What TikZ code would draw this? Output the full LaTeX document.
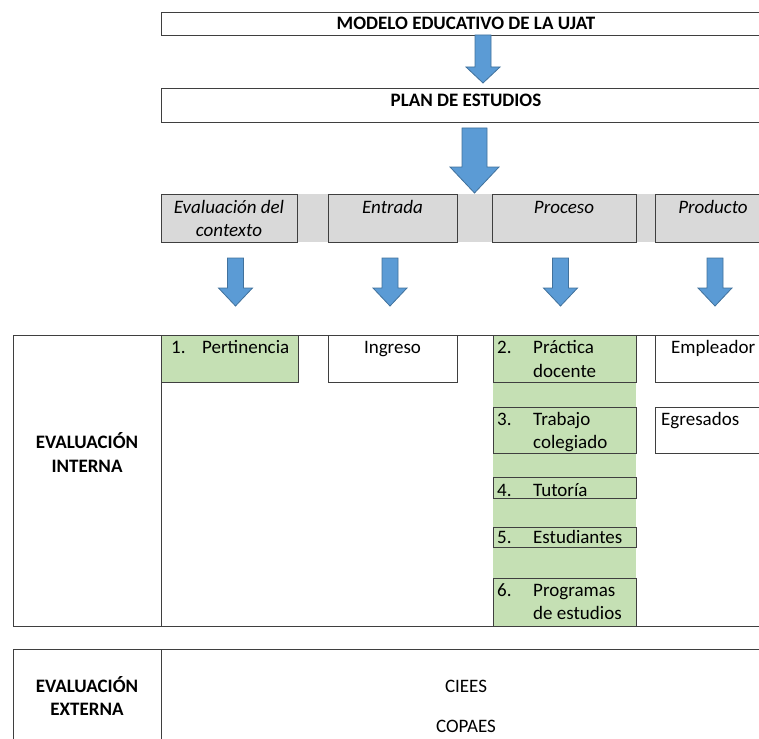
\documentclass[tikz,border=0pt]{standalone}
\usepackage{fontspec}
\setmainfont{Carlito}

\definecolor{arrowblue}{HTML}{5B9BD5}
\definecolor{arrowedge}{HTML}{41719C}
\definecolor{boxgrey}{HTML}{D9D9D9}
\definecolor{boxgreen}{HTML}{C5E0B4}
\definecolor{rulegrey}{HTML}{3F3F3F}

\tikzset{
    frame/.style={draw=rulegrey, line width=0.8pt},
    txt/.style={inner sep=0pt, anchor=base},
    ltxt/.style={inner sep=0pt, anchor=base west},
}

% block arrow: centre x, top, tip, half shaft, half head, start of head
\newcommand{\blockarr}[6]{%
    \filldraw[fill=arrowblue, draw=arrowedge, line width=0.8pt]
    (#1-#4,#2) -- (#1+#4,#2) -- (#1+#4,#6) -- (#1+#5,#6) -- (#1,#3) -- (#1-#5,#6) -- (#1-#4,#6) -- cycle;}

\begin{document}
\begin{tikzpicture}[x=1pt,y=-1pt, font=\fontsize{19}{23}\selectfont]
    \path[use as bounding box, clip] (0,0) rectangle (759,738);

    % top boxes
    \draw[frame] (161,12) rectangle (771,35);
    \node[txt] (modelo) at (466,30) {\bfseries MODELO EDUCATIVO DE LA UJAT};
    \blockarr{483}{35}{83}{8}{17}{67}

    \draw[frame] (161,88) rectangle (771,122);
    \node[txt] (plan) at (466,107) {\bfseries PLAN DE ESTUDIOS};
    \blockarr{474.5}{128}{193}{12.5}{24.5}{167}

    % grey row
    \fill[boxgrey] (161,194) rectangle (771,242);
    \draw[frame, fill=boxgrey] (161,194) rectangle (297,242);
    \draw[frame, fill=boxgrey] (328,194) rectangle (457,242);
    \draw[frame, fill=boxgrey] (492,194) rectangle (636,242);
    \draw[frame, fill=boxgrey] (655,194) rectangle (771,242);
    \node[txt] (contexta) at (229,213) {\itshape Evaluación del};
    \node[txt] (contextb) at (229,236) {\itshape contexto};
    \node[txt] (entrada) at (392.5,213) {\itshape Entrada};
    \node[txt] (proceso) at (564,213) {\itshape Proceso};
    \node[txt] (producto) at (713,213) {\itshape Producto};

    \foreach \cx in {235.5, 390, 560.5, 715}{
        \blockarr{\cx}{258}{306}{8}{17}{288}
    }

    % evaluacion interna
    \draw[frame] (13,335) rectangle (771,626);
    \draw[frame] (161,335) -- (161,626);
    \node[txt] (intera) at (87,448) {\bfseries EVALUACIÓN};
    \node[txt] (interb) at (87,472) {\bfseries INTERNA};

    \draw[frame, fill=boxgreen] (161,335) rectangle (298,382);
    \node[ltxt] (numa) at (171,353) {1.};
    \node[ltxt] (pertinencia) at (202,353) {Pertinencia};

    \draw[frame] (328,335) rectangle (457,382);
    \node[txt] (ingreso) at (392.5,353) {Ingreso};

    \fill[boxgreen] (493,335) rectangle (636,626);
    \draw[frame, fill=boxgreen] (493,335) rectangle (636,382);
    \draw[frame, fill=boxgreen] (493,407) rectangle (636,453);
    \draw[frame, fill=boxgreen] (493,477) rectangle (636,498);
    \draw[frame, fill=boxgreen] (493,527) rectangle (636,547);
    \draw[frame, fill=boxgreen] (493,578) rectangle (636,626);
    \node[ltxt] (numb) at (497,353) {2.};
    \node[ltxt] (practica) at (533,353) {Práctica};
    \node[ltxt] (docente) at (533,377) {docente};
    \node[ltxt] (numc) at (497,425) {3.};
    \node[ltxt] (trabajo) at (533,425) {Trabajo};
    \node[ltxt] (colegiado) at (533,448) {colegiado};
    \node[ltxt] (numd) at (497,496) {4.};
    \node[ltxt] (tutoria) at (533,496) {Tutoría};
    \node[ltxt] (nume) at (497,543) {5.};
    \node[ltxt] (estudiantes) at (533,543) {Estudiantes};
    \node[ltxt] (numf) at (497,596) {6.};
    \node[ltxt] (programas) at (533,596) {Programas};
    \node[ltxt] (deestudios) at (533,619) {de estudios};

    \draw[frame] (655,335) rectangle (771,382);
    \node[ltxt] (empleador) at (671,353) {Empleador};
    \draw[frame] (655,407) rectangle (771,453);
    \node[ltxt] (egresados) at (661,425) {Egresados};

    % evaluacion externa
    \draw[frame] (13,649) rectangle (771,760);
    \draw[frame] (161,649) -- (161,760);
    \node[txt] (externa) at (87,692) {\bfseries EVALUACIÓN};
    \node[txt] (externb) at (87,715) {\bfseries EXTERNA};
    \node[txt] (ciees) at (466,692) {CIEES};
    \node[txt] (copaes) at (466,732) {COPAES};
\end{tikzpicture}
\end{document}
